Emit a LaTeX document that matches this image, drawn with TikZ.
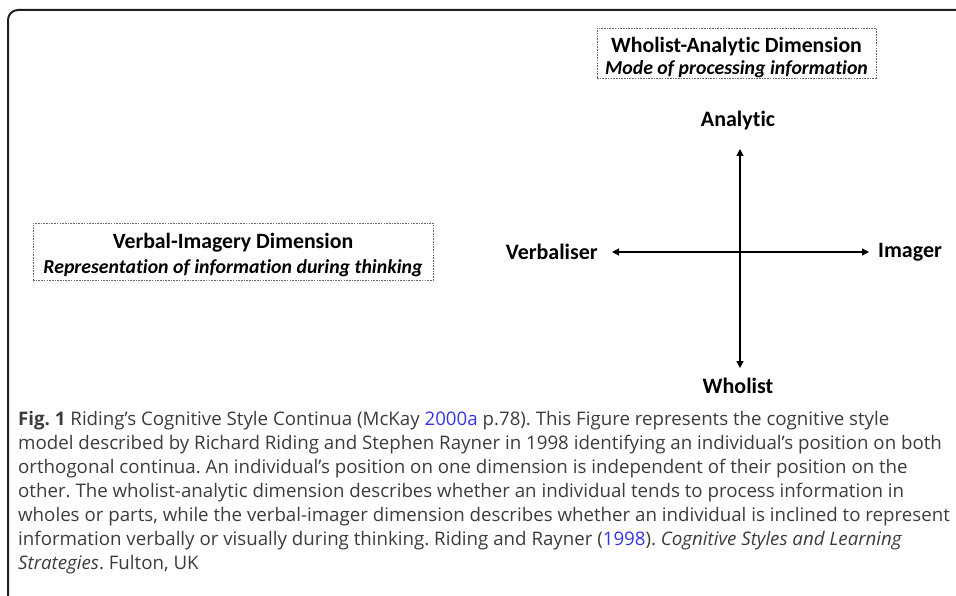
\documentclass[tikz,border=0pt]{standalone}
\usepackage{fontspec}
\setmainfont{Open Sans}
\newfontfamily\labelfont[Ligatures=NoCommon]{Carlito}
\usetikzlibrary{arrows.meta}
\definecolor{captiongray}{HTML}{3C3C3C}
\definecolor{linkblue}{HTML}{3535E8}
\definecolor{boxgray}{HTML}{6A6A6A}
\tikzset{
  dimbox/.style={draw=boxgray, line width=0.9pt, dash pattern=on 1.6pt off 1.1pt, inner sep=0pt},
  boxtitle/.style={anchor=base, inner sep=0pt, font=\labelfont\bfseries\fontsize{21.8}{26}\selectfont},
  boxsub/.style={anchor=base, inner sep=0pt, font=\labelfont\bfseries\itshape\fontsize{19.8}{24}\selectfont},
  polelabel/.style={font=\labelfont\bfseries\fontsize{22}{26}\selectfont, inner sep=0pt},
  axis/.style={line width=1.2pt, {Triangle[length=7pt,width=7pt]}-{Triangle[length=7pt,width=7pt]}},
  capline/.style={anchor=base west, inner sep=0pt, text=captiongray, font=\fontsize{18.7}{24}\selectfont},
}
\begin{document}
\frenchspacing
\begin{tikzpicture}[x=1pt,y=-1pt]
\useasboundingbox (0,0) rectangle (956,596);
% outer frame with a rounded top-left corner
\draw[line width=2pt, black!88, rounded corners=10pt] (8,600) -- (8,10) -- (960,10);

% dimension boxes and their two-line headings (yshift is measured upwards)
\node[dimbox, minimum width=279pt, minimum height=50pt] (wabox) at (736.5,53) {};
\node[boxtitle] (watitle) at ([yshift=0pt]wabox.center) {Wholist-Analytic Dimension};
\node[boxsub] (wasub) at ([yshift=-22pt]wabox.center) {Mode of processing information};
\node[dimbox, minimum width=400pt, minimum height=57pt] (vibox) at (233,251.5) {};
\node[boxtitle] (vititle) at ([yshift=3.5pt]vibox.center) {Verbal-Imagery Dimension};
\node[boxsub] (visub) at ([yshift=-21.5pt]vibox.center) {Representation of information during thinking};

% pole labels
\node[polelabel] (analytic) at (738,121) {Analytic};
\node[polelabel] (wholist) at (738,386) {Wholist};
\node[polelabel, anchor=east] (verbaliser) at (598,252) {Verbaliser};
\node[polelabel, anchor=west] (imager) at (878,252) {Imager};

% axis end points
\coordinate (top) at (740,149);
\coordinate (bottom) at (740,368);
\coordinate (left) at (612,252);
\coordinate (right) at (869,252);
\draw[axis] (top) -- (bottom);
\draw[axis] (left) -- (right);

% caption
\node[capline] (c1) at (18,425) {\textbf{Fig. 1} Riding’s Cognitive Style Continua (McKay \textcolor{linkblue}{2000a} p.78). This Figure represents the cognitive style};
\node[capline] (c2) at (18,449) {model described by Richard Riding and Stephen Rayner in 1998 identifying an individual’s position on both};
\node[capline] (c3) at (18,473) {orthogonal continua. An individual’s position on one dimension is independent of their position on the};
\node[capline] (c4) at (18,497) {other. The wholist-analytic dimension describes whether an individual tends to process information in};
\node[capline] (c5) at (18,521) {wholes or parts, while the verbal-imager dimension describes whether an individual is inclined to represent};
\node[capline] (c6) at (18,545) {information verbally or visually during thinking. Riding and Rayner (\textcolor{linkblue}{1998}). \textit{Cognitive Styles and Learning}};
\node[capline] (c7) at (18,569) {\textit{Strategies}. Fulton, UK};
\end{tikzpicture}
\end{document}
